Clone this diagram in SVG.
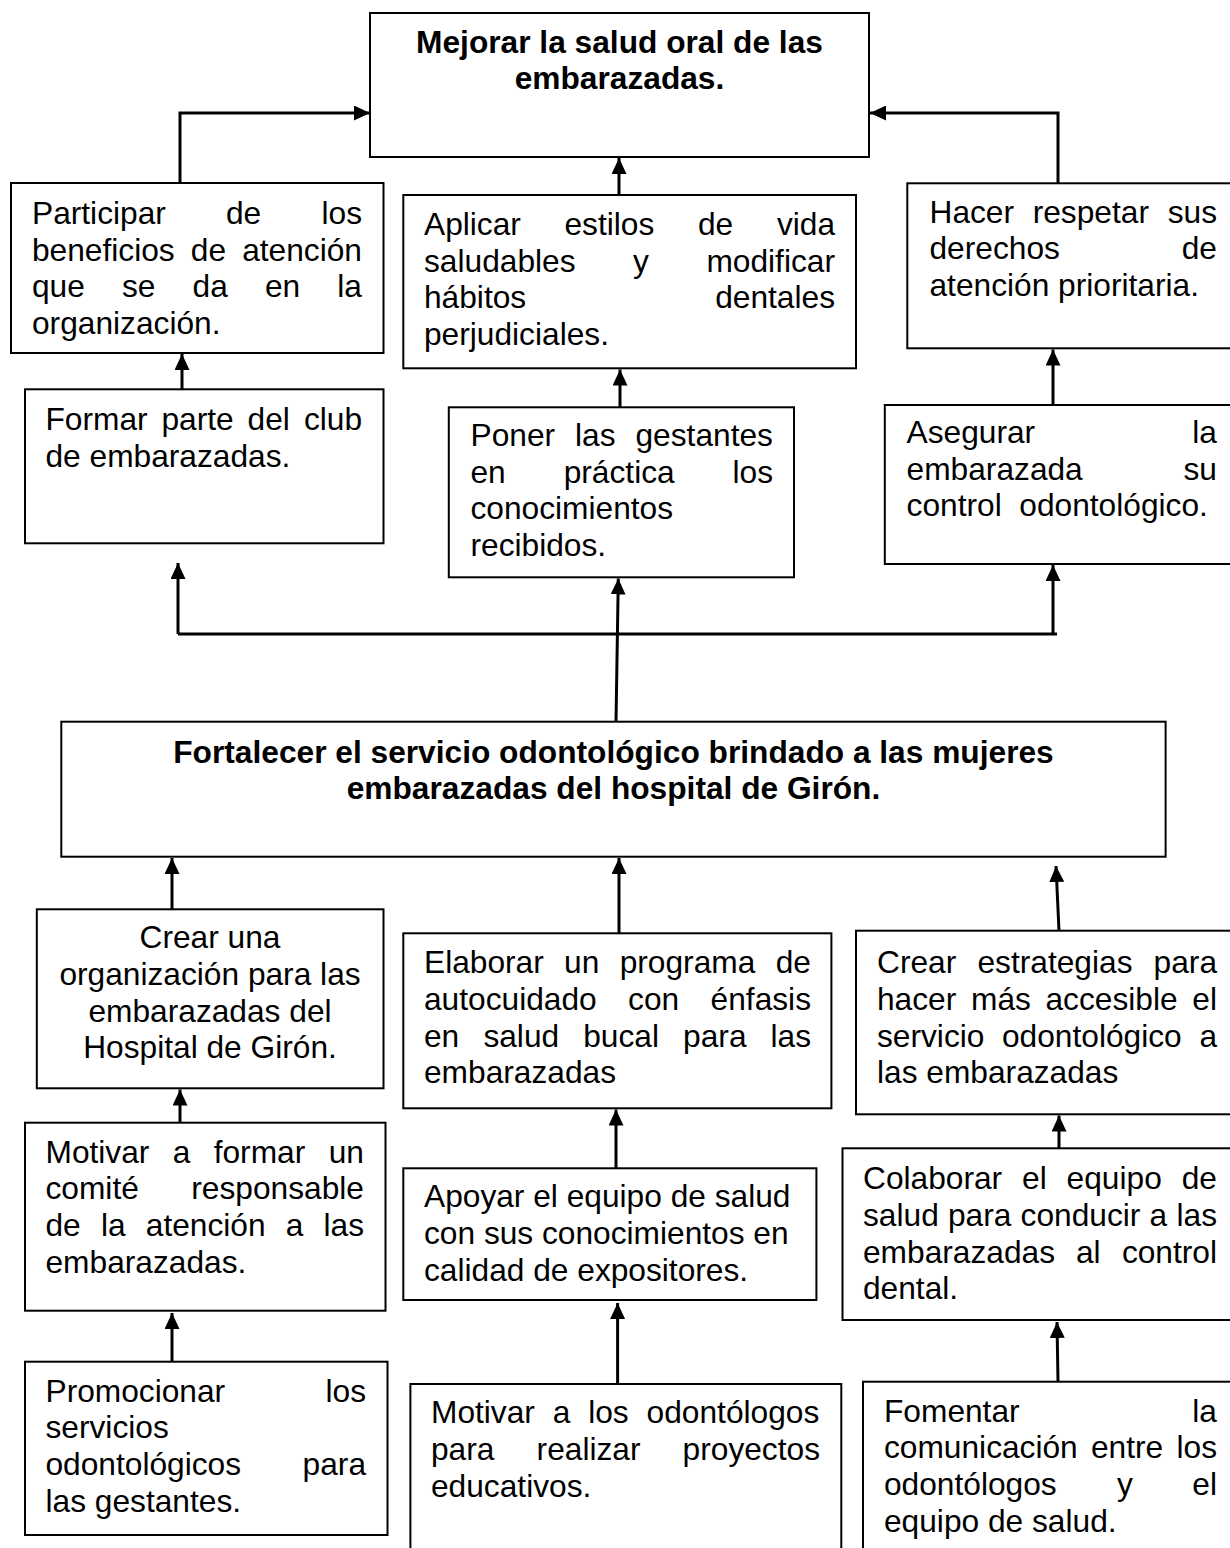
<svg xmlns="http://www.w3.org/2000/svg" width="1230" height="1548" viewBox="0 0 1230 1548">
<style>
.box{fill:#fff;stroke:#000;stroke-width:2}
.t{font-family:"Liberation Sans",Arial,sans-serif;font-size:31.7px;fill:#000}
.b{font-weight:bold}
.m{text-anchor:middle}
.c{fill:none;stroke:#000;stroke-width:3}
</style>
<defs>
<marker id="ah" markerUnits="userSpaceOnUse" markerWidth="16" markerHeight="15" refX="16" refY="7.5" orient="auto">
<path d="M0,0 L16,7.5 L0,15 z" fill="#000"/>
</marker>
</defs>
<rect width="1230" height="1548" fill="#fff"/>

<g id="n-top">
<rect class="box" x="370" y="13" width="499" height="144"/>
<text class="t b m" x="619.5" y="53">Mejorar la salud oral de las</text>
<text class="t b m" x="619.5" y="89">embarazadas.</text>
</g>

<g id="n-participar">
<rect class="box" x="11" y="183" width="372.5" height="170"/>
<text class="t" y="224"><tspan x="32">Participar</tspan><tspan x="226">de</tspan><tspan x="321.5">los</tspan></text>
<text class="t" y="260.5"><tspan x="32">beneficios</tspan><tspan x="190.8">de</tspan><tspan x="242.2">atención</tspan></text>
<text class="t" y="297"><tspan x="32">que</tspan><tspan x="122">se</tspan><tspan x="192.6">da</tspan><tspan x="265">en</tspan><tspan x="337.3">la</tspan></text>
<text class="t" x="32" y="333.5">organización.</text>
</g>

<g id="n-aplicar">
<rect class="box" x="403.3" y="195" width="452.7" height="173.3"/>
<text class="t" y="235"><tspan x="424">Aplicar</tspan><tspan x="564.5">estilos</tspan><tspan x="697.9">de</tspan><tspan x="776.9">vida</tspan></text>
<text class="t" y="271.5"><tspan x="424">saludables</tspan><tspan x="633">y</tspan><tspan x="706.4">modificar</tspan></text>
<text class="t" y="308"><tspan x="424">hábitos</tspan><tspan x="715.2">dentales</tspan></text>
<text class="t" x="424" y="344.5">perjudiciales.</text>
</g>

<g id="n-hacer">
<rect class="box" x="907.3" y="183.3" width="330" height="165"/>
<text class="t" y="222.7"><tspan x="929.5">Hacer</tspan><tspan x="1032.7">respetar</tspan><tspan x="1167.7">sus</tspan></text>
<text class="t" y="259.2"><tspan x="929.5">derechos</tspan><tspan x="1181.7">de</tspan></text>
<text class="t" x="929.5" y="295.7">atención prioritaria.</text>
</g>

<g id="n-formar">
<rect class="box" x="25" y="389.3" width="358.5" height="154"/>
<text class="t" y="430"><tspan x="45.5">Formar</tspan><tspan x="161.5">parte</tspan><tspan x="247.6">del</tspan><tspan x="303.9">club</tspan></text>
<text class="t" x="45.5" y="466.5">de embarazadas.</text>
</g>

<g id="n-poner">
<rect class="box" x="448.8" y="407.3" width="345.2" height="170"/>
<text class="t" y="446"><tspan x="470.5">Poner</tspan><tspan x="575">las</tspan><tspan x="635.5">gestantes</tspan></text>
<text class="t" y="482.5"><tspan x="470.5">en</tspan><tspan x="563.7">práctica</tspan><tspan x="732.5">los</tspan></text>
<text class="t" x="470.5" y="519">conocimientos</text>
<text class="t" x="470.5" y="555.5">recibidos.</text>
</g>

<g id="n-asegurar">
<rect class="box" x="884.8" y="405" width="352.5" height="159"/>
<text class="t" y="443.3"><tspan x="906.6">Asegurar</tspan><tspan x="1192.3">la</tspan></text>
<text class="t" y="479.8"><tspan x="906.6">embarazada</tspan><tspan x="1183.5">su</tspan></text>
<text class="t" y="516.3"><tspan x="906.6">control</tspan><tspan x="1019.3">odontológico.</tspan></text>
</g>

<g id="n-fortalecer">
<rect class="box" x="61.3" y="721.7" width="1104.3" height="135"/>
<text class="t b m" x="613.5" y="762.7">Fortalecer el servicio odontológico brindado a las mujeres</text>
<text class="t b m" x="613.5" y="799.3">embarazadas del hospital de Girón.</text>
</g>

<g id="n-crear-org">
<rect class="box" x="36.8" y="909.3" width="346.7" height="179"/>
<text class="t m" x="210" y="948.3">Crear una</text>
<text class="t m" x="210" y="984.9">organización para las</text>
<text class="t m" x="210" y="1021.5">embarazadas del</text>
<text class="t m" x="210" y="1058.1">Hospital de Girón.</text>
</g>

<g id="n-elaborar">
<rect class="box" x="403.3" y="933.3" width="428.1" height="175"/>
<text class="t" y="973.3"><tspan x="424">Elaborar</tspan><tspan x="564.1">un</tspan><tspan x="619.7">programa</tspan><tspan x="775.7">de</tspan></text>
<text class="t" y="1009.9"><tspan x="424">autocuidado</tspan><tspan x="628.1">con</tspan><tspan x="710.6">énfasis</tspan></text>
<text class="t" y="1046.5"><tspan x="424">en</tspan><tspan x="483.4">salud</tspan><tspan x="583.2">bucal</tspan><tspan x="683.1">para</tspan><tspan x="770.5">las</tspan></text>
<text class="t" x="424" y="1083.1">embarazadas</text>
</g>

<g id="n-crear-estrategias">
<rect class="box" x="856" y="930.7" width="381.3" height="183.6"/>
<text class="t" y="973.3"><tspan x="877">Crear</tspan><tspan x="977.5">estrategias</tspan><tspan x="1153.6">para</tspan></text>
<text class="t" y="1009.9"><tspan x="877">hacer</tspan><tspan x="971">más</tspan><tspan x="1045.5">accesible</tspan><tspan x="1192.3">el</tspan></text>
<text class="t" y="1046.5"><tspan x="877">servicio</tspan><tspan x="1002">odontológico</tspan><tspan x="1199.4">a</tspan></text>
<text class="t" x="877" y="1083.1">las embarazadas</text>
</g>

<g id="n-motivar-comite">
<rect class="box" x="25" y="1122.7" width="360.5" height="188"/>
<text class="t" y="1162.7"><tspan x="45.5">Motivar</tspan><tspan x="172.8">a</tspan><tspan x="213.7">formar</tspan><tspan x="328.7">un</tspan></text>
<text class="t" y="1199.3"><tspan x="45.5">comité</tspan><tspan x="191.3">responsable</tspan></text>
<text class="t" y="1235.9"><tspan x="45.5">de</tspan><tspan x="101">la</tspan><tspan x="145.8">atención</tspan><tspan x="285.8">a</tspan><tspan x="323.5">las</tspan></text>
<text class="t" x="45.5" y="1272.5">embarazadas.</text>
</g>

<g id="n-apoyar">
<rect class="box" x="403.3" y="1168.3" width="413.1" height="131.7"/>
<text class="t" x="424" y="1207.3">Apoyar el equipo de salud</text>
<text class="t" x="424" y="1243.9">con sus conocimientos en</text>
<text class="t" x="424" y="1280.5">calidad de expositores.</text>
</g>

<g id="n-colaborar">
<rect class="box" x="842.5" y="1148.3" width="394.8" height="171.7"/>
<text class="t" y="1189.3"><tspan x="863">Colaborar</tspan><tspan x="1022.1">el</tspan><tspan x="1066.6">equipo</tspan><tspan x="1181.7">de</tspan></text>
<text class="t" y="1225.9"><tspan x="863">salud</tspan><tspan x="948">para</tspan><tspan x="1020.6">conducir</tspan><tspan x="1149.6">a</tspan><tspan x="1176.5">las</tspan></text>
<text class="t" y="1262.5"><tspan x="863">embarazadas</tspan><tspan x="1076">al</tspan><tspan x="1121.9">control</tspan></text>
<text class="t" x="863" y="1299.1">dental.</text>
</g>

<g id="n-promocionar">
<rect class="box" x="25" y="1361.7" width="362.5" height="173.3"/>
<text class="t" y="1401.7"><tspan x="45.5">Promocionar</tspan><tspan x="325.5">los</tspan></text>
<text class="t" x="45.5" y="1438.3">servicios</text>
<text class="t" y="1474.9"><tspan x="45.5">odontológicos</tspan><tspan x="302.6">para</tspan></text>
<text class="t" x="45.5" y="1511.5">las gestantes.</text>
</g>

<g id="n-motivar-odontologos">
<rect class="box" x="410.4" y="1384" width="430.9" height="180"/>
<text class="t" y="1423.3"><tspan x="431">Motivar</tspan><tspan x="552.8">a</tspan><tspan x="588.2">los</tspan><tspan x="646.6">odontólogos</tspan></text>
<text class="t" y="1459.9"><tspan x="431">para</tspan><tspan x="536.6">realizar</tspan><tspan x="682.6">proyectos</tspan></text>
<text class="t" x="431" y="1496.5">educativos.</text>
</g>

<g id="n-fomentar">
<rect class="box" x="863" y="1381.7" width="374.3" height="182"/>
<text class="t" y="1421.7"><tspan x="884">Fomentar</tspan><tspan x="1192.3">la</tspan></text>
<text class="t" y="1458.3"><tspan x="884">comunicación</tspan><tspan x="1091">entre</tspan><tspan x="1176.5">los</tspan></text>
<text class="t" y="1494.9"><tspan x="884">odontólogos</tspan><tspan x="1116.9">y</tspan><tspan x="1192.3">el</tspan></text>
<text class="t" x="884" y="1531.5">equipo de salud.</text>
</g>

<g id="connectors">
<path class="c" d="M180,183 V113 H370" marker-end="url(#ah)"/>
<path class="c" d="M1058,183 V113 H870" marker-end="url(#ah)"/>
<path class="c" d="M619,195 V158" marker-end="url(#ah)"/>
<path class="c" d="M182,389 V354" marker-end="url(#ah)"/>
<path class="c" d="M620,407 V369.5" marker-end="url(#ah)"/>
<path class="c" d="M1053,405 V349.5" marker-end="url(#ah)"/>
<path class="c" d="M616,722 L618.3,578.5" marker-end="url(#ah)"/>
<path class="c" d="M178,634 H1057"/>
<path class="c" d="M178,634 V563" marker-end="url(#ah)"/>
<path class="c" d="M1053,634 V565" marker-end="url(#ah)"/>
<path class="c" d="M172,909 V858" marker-end="url(#ah)"/>
<path class="c" d="M619,933 V858" marker-end="url(#ah)"/>
<path class="c" d="M1059,930.7 L1056,866" marker-end="url(#ah)"/>
<path class="c" d="M180,1122.7 V1089.5" marker-end="url(#ah)"/>
<path class="c" d="M172,1361.7 V1313" marker-end="url(#ah)"/>
<path class="c" d="M616,1168 V1109.5" marker-end="url(#ah)"/>
<path class="c" d="M617.6,1384 V1303" marker-end="url(#ah)"/>
<path class="c" d="M1059,1148 V1115.5" marker-end="url(#ah)"/>
<path class="c" d="M1058,1381.7 L1057,1322" marker-end="url(#ah)"/>
</g>
</svg>
